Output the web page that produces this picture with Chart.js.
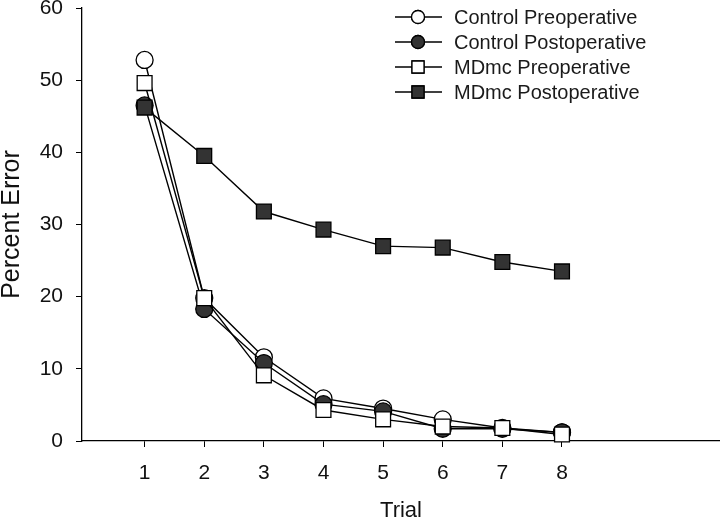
<!DOCTYPE html>
<html>
<head>
<meta charset="utf-8">
<script src="https://cdn.jsdelivr.net/npm/chart.js@4/dist/chart.umd.min.js"></script>
<style>
  html, body { margin: 0; padding: 0; background: #fff; overflow: hidden; }
  #wrap { width: 720px; height: 522px; position: relative; }
</style>
</head>
<body>
<div id="wrap"><canvas id="chart"></canvas></div>
<script>
// trial numbers and percent error per group
const trials = [1, 2, 3, 4, 5, 6, 7, 8];
const controlPre = [52.8, 19.8, 11.6, 5.9, 4.5, 3.0, 1.8, 1.2];
const controlPost = [46.5, 18.3, 10.8, 5.1, 4.1, 1.7, 1.7, 1.2];
const mdmcPre = [49.6, 19.8, 9.1, 4.3, 3.0, 2.0, 1.8, 0.9];
const mdmcPost = [46.2, 39.5, 31.8, 29.3, 27.0, 26.8, 24.8, 23.5];
const yTicks = [0, 10, 20, 30, 40, 50, 60];

const dark = '#333333';
const font = '"Liberation Sans", Arial, sans-serif';
const toPoints = vals => vals.map((v, i) => ({ x: trials[i], y: v }));

const series = [
  { label: 'Control Preoperative', data: controlPre, style: 'circle', fill: '#ffffff', r: 8.5, lr: 6.5, order: 3 },
  { label: 'Control Postoperative', data: controlPost, style: 'circle', fill: dark, r: 8.5, lr: 6.5, order: 2 },
  { label: 'MDmc Preoperative', data: mdmcPre, style: 'rect', fill: '#ffffff', r: 10.5, lr: 8.5, order: 1 },
  { label: 'MDmc Postoperative', data: mdmcPost, style: 'rect', fill: dark, r: 10.5, lr: 8.5, order: 0 }
];

// legend drawn in the top right like the original figure
const legendPlugin = {
  id: 'figLegend',
  afterDraw(chart) {
    const ctx = chart.ctx;
    ctx.save();
    series.forEach((s, i) => {
      const y = 17 + i * 25;
      ctx.strokeStyle = '#000';
      ctx.lineWidth = 1.3;
      ctx.beginPath();
      ctx.moveTo(395, y);
      ctx.lineTo(442, y);
      ctx.stroke();
      ctx.fillStyle = s.fill;
      Chart.helpers.drawPoint(ctx, { pointStyle: s.style, radius: s.lr, borderWidth: 1.3 }, 418, y);
      ctx.fill();
      ctx.stroke();
      ctx.fillStyle = '#1a1a1a';
      ctx.font = '20px ' + font;
      ctx.textBaseline = 'middle';
      ctx.textAlign = 'left';
      ctx.fillText(s.label, 454, y + 1);
    });
    ctx.restore();
  }
};

new Chart(document.getElementById('chart'), {
  type: 'line',
  data: {
    datasets: series.map(s => ({
      label: s.label,
      data: toPoints(s.data),
      borderColor: '#000',
      borderWidth: 1.4,
      pointStyle: s.style,
      pointRadius: s.r,
      pointHoverRadius: s.r,
      pointBackgroundColor: s.fill,
      pointBorderColor: '#000',
      pointBorderWidth: 1.3,
      fill: false,
      tension: 0,
      clip: false,
      order: s.order
    }))
  },
  options: {
    responsive: true,
    maintainAspectRatio: false,
    animation: false,
    layout: { autoPadding: false, padding: { top: 8, right: 0, left: 0, bottom: 0 } },
    plugins: {
      legend: { display: false },
      tooltip: { enabled: false }
    },
    scales: {
      x: {
        type: 'linear',
        min: -0.05,
        max: 10.65,
        afterBuildTicks: s => { s.ticks = trials.map(v => ({ value: v })); },
        afterFit: s => { s.height = 81; s.paddingLeft = 0; s.paddingRight = 0; },
        grid: { drawOnChartArea: false, drawTicks: true, tickLength: 6, color: '#000' },
        border: { display: true, color: '#000', width: 1.3 },
        ticks: {
          color: '#111',
          padding: 14,
          font: { family: font, size: 21 }
        },
        title: {
          display: true,
          text: 'Trial',
          color: '#111',
          padding: 0,
          font: { family: font, size: 22, lineHeight: 1 }
        }
      },
      y: {
        min: 0,
        max: 60,
        afterBuildTicks: s => { s.ticks = yTicks.map(v => ({ value: v })); },
        afterFit: s => { s.width = 82; s.paddingTop = 0; s.paddingBottom = 0; },
        grid: { drawOnChartArea: false, drawTicks: true, tickLength: 6, color: '#000' },
        border: { display: true, color: '#000', width: 1.3 },
        ticks: {
          color: '#111',
          padding: 13,
          font: { family: font, size: 21 }
        },
        title: {
          display: true,
          text: 'Percent Error',
          color: '#111',
          padding: 0,
          font: { family: font, size: 25, lineHeight: 1 }
        }
      }
    }
  },
  plugins: [legendPlugin]
});
</script>
</body>
</html>
